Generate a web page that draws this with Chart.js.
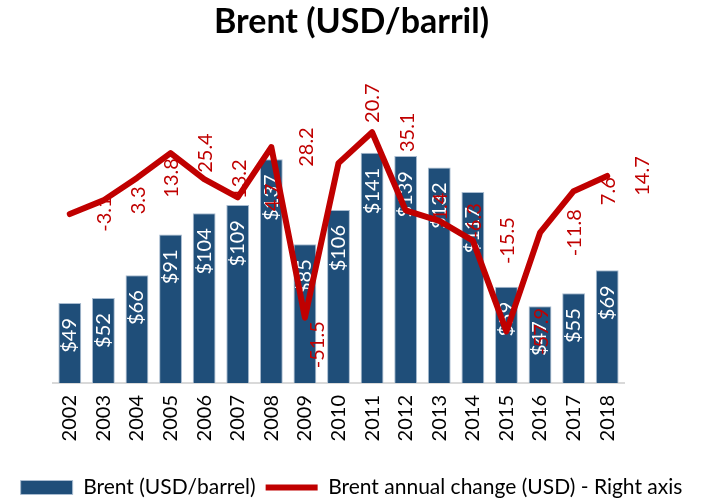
<!DOCTYPE html>
<html lang="en">
<head>
  <meta charset="UTF-8" />
  <title>Brent (USD/barril)</title>
  <script src="https://cdn.jsdelivr.net/npm/chart.js"></script>
  <style>
    body {
      margin: 0;
      background: #fff;
    }
    #wrap {
      width: 703px;
      height: 503px;
    }
  </style>
</head>
<body>
  <div id="wrap"><canvas id="grafico"></canvas></div>

  <script>
    // dados
    const anos = ['2002', '2003', '2004', '2005', '2006', '2007', '2008', '2009', '2010',
                  '2011', '2012', '2013', '2014', '2015', '2016', '2017', '2018'];
    const brentPreco = [49, 52, 66, 91, 104, 109, 137, 85, 106, 141, 139, 132, 117, 59, 47, 55, 69];
    const variacaoAnual = [-3.1, 3.3, 13.8, 25.4, 13.2, 4.7, 28.2, -51.5, 20.7, 35.1, -1.4, -6.3, -15.5, -57.9, -11.8, 7.6, 14.7];

    const fonte = 'Lato';

    // rotulos da linha movidos a mao no original
    const ajusteRotulo = {
      7: { dx: 13, dy: 27 },
      8: { dx: 34, dy: -60 }
    };

    const rotulos = {
      id: 'rotulos',
      // rotulos das barras: depois das barras, antes da linha
      afterDatasetDraw(chart, args) {
        if (args.index !== 0) return;
        const ctx = chart.ctx;
        ctx.save();
        ctx.font = '20px ' + fonte;
        ctx.fillStyle = '#fff';
        ctx.textAlign = 'right';
        ctx.textBaseline = 'middle';
        args.meta.data.forEach((bar, i) => {
          ctx.save();
          ctx.translate(bar.x, bar.y + 15);
          ctx.rotate(-Math.PI / 2);
          ctx.fillText('$' + brentPreco[i], 0, 0);
          ctx.restore();
        });
        ctx.restore();
      },
      afterDatasetsDraw(chart) {
        const ctx = chart.ctx;
        const meta = chart.getDatasetMeta(1);
        ctx.save();
        ctx.font = '20px ' + fonte;
        ctx.fillStyle = '#C00000';
        ctx.textAlign = 'center';
        ctx.textBaseline = 'middle';
        meta.data.forEach((pt, i) => {
          const aj = ajusteRotulo[i] || { dx: 35, dy: 0 };
          ctx.save();
          ctx.translate(pt.x + aj.dx, pt.y + aj.dy);
          ctx.rotate(-Math.PI / 2);
          ctx.fillText(String(variacaoAnual[i]), 0, 0);
          ctx.restore();
        });
        ctx.restore();
      }
    };

    const ctx = document.getElementById('grafico').getContext('2d');
    new Chart(ctx, {
      data: {
        labels: anos,
        datasets: [{
          type: 'bar',
          label: 'Brent (USD/barrel)',
          data: brentPreco,
          backgroundColor: '#1F4E79',
          borderColor: '#A9BCD0',
          borderWidth: 1,
          barPercentage: 0.68,
          categoryPercentage: 1,
          pointStyle: 'rect',
          yAxisID: 'y',
          order: 1
        }, {
          type: 'line',
          label: 'Brent annual change (USD) - Right axis',
          data: variacaoAnual,
          borderColor: '#C00000',
          backgroundColor: '#C00000',
          borderWidth: 6,
          borderJoinStyle: 'round',
          borderCapStyle: 'round',
          pointRadius: 0,
          pointStyle: 'line',
          tension: 0,
          yAxisID: 'y1',
          order: 0
        }]
      },
      options: {
        responsive: true,
        maintainAspectRatio: false,
        animation: false,
        layout: { padding: { top: 0, bottom: -5, left: 0, right: 0 } },
        plugins: {
          title: {
            display: true,
            text: 'Brent (USD/barril)',
            color: '#000',
            font: { family: fonte, size: 34, weight: 'bold' },
            padding: { top: 2, bottom: 79 }
          },
          legend: {
            position: 'bottom',
            labels: {
              usePointStyle: true,
              pointStyleWidth: 52,
              boxHeight: 14,
              color: '#000',
              font: { family: fonte, size: 21 },
              padding: 10,
              sort: (a, b) => a.datasetIndex - b.datasetIndex
            }
          },
          tooltip: { enabled: false }
        },
        scales: {
          x: {
            grid: { display: false, drawTicks: false },
            border: { display: true, color: '#D9D9D9', width: 2 },
            ticks: {
              color: '#000',
              font: { family: fonte, size: 20 },
              minRotation: 90,
              maxRotation: 90,
              autoSkip: false,
              padding: 12
            },
            afterFit(s) { s.height = 84; }
          },
          y: {
            min: 0,
            max: 160,
            ticks: { display: false },
            grid: { display: false },
            border: { display: false },
            afterFit(s) { s.width = 53; }
          },
          y1: {
            position: 'right',
            min: -82,
            max: 40,
            ticks: { display: false },
            grid: { display: false },
            border: { display: false },
            afterFit(s) { s.width = 79; }
          }
        }
      },
      plugins: [rotulos]
    });
  </script>
</body>
</html>
